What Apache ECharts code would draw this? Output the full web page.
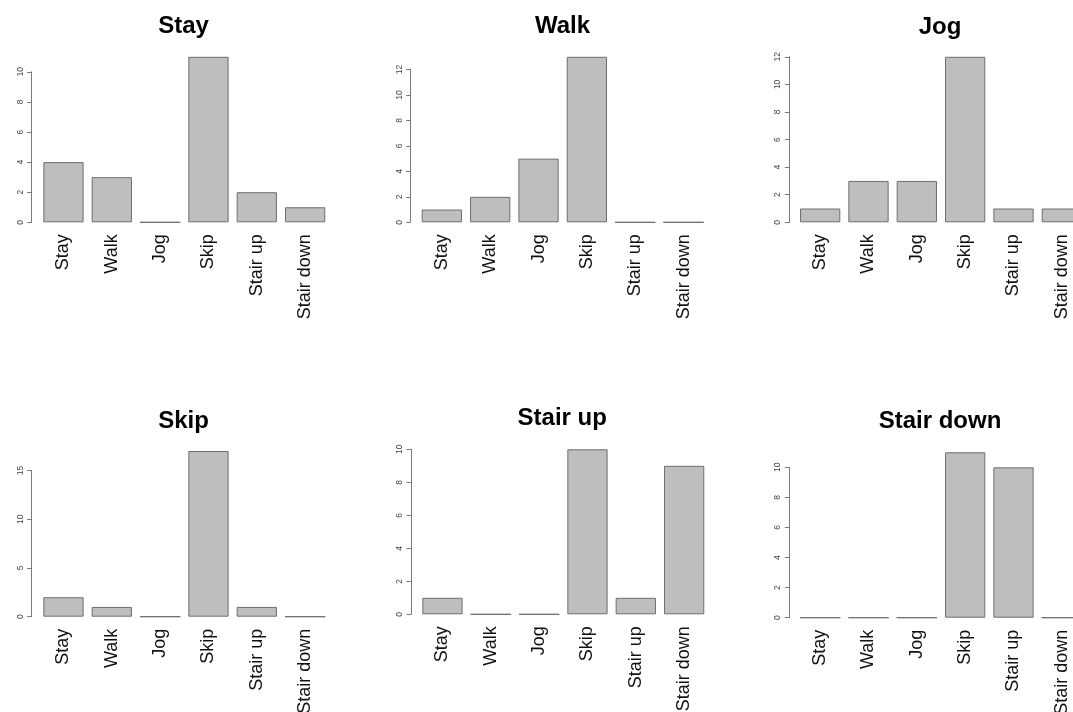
<!DOCTYPE html>
<html><head><meta charset="utf-8">
<script src="https://cdn.jsdelivr.net/npm/echarts@6/dist/echarts.min.js"></script>
<style>html,body{margin:0;padding:0;background:#fff}#c{width:1073px;height:712px}</style>
</head><body><div id="c"></div>
<script>
// ---- data ----
const categories = ['Stay', 'Walk', 'Jog', 'Skip', 'Stair up', 'Stair down'];
const panelTitles = ['Stay', 'Walk', 'Jog', 'Skip', 'Stair up', 'Stair down'];
const stayValues = [4, 3, 0, 11, 2, 1];
const walkValues = [1, 2, 5, 13, 0, 0];
const jogValues = [1, 3, 3, 12, 1, 1];
const skipValues = [2, 1, 0, 17, 1, 0];
const stairUpValues = [1, 0, 0, 10, 1, 9];
const stairDownValues = [0, 0, 0, 11, 10, 0];
const panelValues = [stayValues, walkValues, jogValues, skipValues, stairUpValues, stairDownValues];
// y tick labels per panel: step and last tick
const tickSteps = [2, 2, 2, 5, 2, 2];
const tickLast = [10, 12, 12, 15, 10, 10];

// ---- layout (pixels) ----
const gridLeft = [39.3, 417.7, 796, 39.3, 418.3, 796];
const gridWidth = 290;
const gridTopY = [56.8, 56.8, 56.8, 451, 449.3, 452.3];
const gridZeroY = [222.3, 222.3, 222.3, 616.7, 614.3, 617.7];
const axisOffset = [7.6, 7, 6.7, 7.6, 7.3, 6.7];
const titleCenterX = [183.5, 562.5, 940, 183.5, 562.2, 940];
const titleTop = [14, 14, 15.5, 409, 406, 409];

const FONT = "'Liberation Sans', Arial, Helvetica, sans-serif";
const grids = [], xAxes = [], yAxes = [], series = [], titles = [];

panelValues.forEach((vals, i) => {
  const vmax = Math.max(...vals);
  const H = gridZeroY[i] - gridTopY[i];
  const axisH = H * tickLast[i] / vmax;
  // bar grid
  grids.push({ left: gridLeft[i], top: gridTopY[i], width: gridWidth, height: H, outerBoundsMode: 'none', containLabel: false });
  // axis grid (axis line only spans 0..last tick, like R)
  grids.push({ left: gridLeft[i], top: gridZeroY[i] - axisH, width: gridWidth, height: axisH, outerBoundsMode: 'none', containLabel: false });
  const g = 2 * i;
  xAxes.push({
    type: 'category', gridIndex: g, data: categories,
    axisLine: { show: false }, axisTick: { show: false },
    axisLabel: { interval: 0, rotate: 90, fontSize: 18, color: '#111', margin: 12, fontFamily: FONT, hideOverlap: false }
  });
  xAxes.push({ type: 'category', gridIndex: g + 1, data: categories, show: false });
  yAxes.push({ type: 'value', gridIndex: g, min: 0, max: vmax, show: false, splitLine: { show: false } });
  yAxes.push({
    type: 'value', gridIndex: g + 1, min: 0, max: tickLast[i], interval: tickSteps[i],
    offset: axisOffset[i],
    axisLine: { show: true, lineStyle: { color: '#7a7a7a', width: 1 } },
    axisTick: { show: true, length: 4.5, lineStyle: { color: '#7a7a7a', width: 1 } },
    axisLabel: { rotate: 90, fontSize: 8.5, color: '#444', margin: 7, fontFamily: FONT },
    splitLine: { show: false }
  });
  series.push({
    type: 'bar', xAxisIndex: g, yAxisIndex: g, data: vals,
    barCategoryGap: '16.67%', silent: true,
    itemStyle: { color: '#bebebe', borderColor: '#6e6e6e', borderWidth: 1 }
  });
  titles.push({
    text: panelTitles[i], left: titleCenterX[i], top: titleTop[i], textAlign: 'center', padding: 0,
    textStyle: { fontFamily: FONT, fontWeight: 'bold', fontSize: 24, color: '#000' }
  });
});

const chart = echarts.init(document.getElementById('c'), null, { renderer: 'canvas' });
chart.setOption({
  animation: false,
  backgroundColor: '#fff',
  title: titles,
  grid: grids,
  xAxis: xAxes,
  yAxis: yAxes,
  series: series
});
</script></body></html>
